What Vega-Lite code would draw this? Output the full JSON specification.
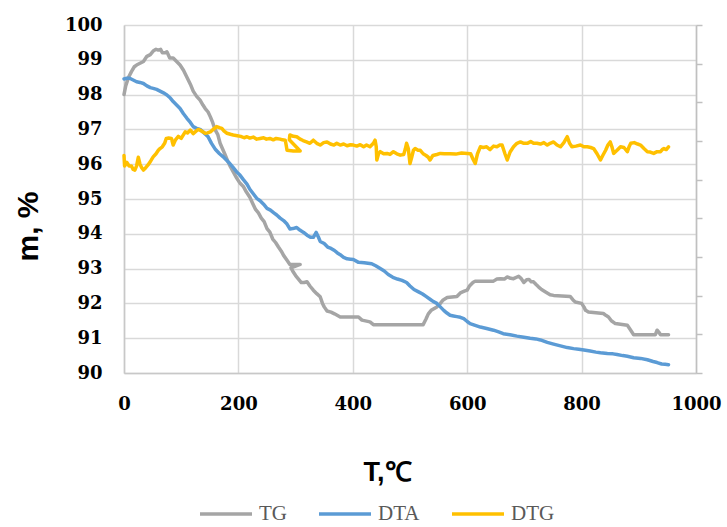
{
  "$schema": "https://vega.github.io/schema/vega-lite/v6.json",
  "autosize": "none",
  "width": 572,
  "height": 348,
  "padding": {"left": 124, "top": 25, "right": 31, "bottom": 154},
  "background": "white",
  "config": {
    "view": {"stroke": null},
    "axis": {"labelFont": "DejaVu Serif", "labelFontWeight": "bold", "labelFontSize": 18, "labelColor": "#000000", "gridColor": "#d9d9d9", "gridWidth": 1.5, "domainColor": "#c8c8c8", "domainWidth": 1.5, "ticks": false, "labelFlush": false}
  },
  "resolve": {"scale": {"y": "independent"}},
  "layer": [
    {
      "data": {"values": [
        {"s":"TG","T":0,"m":98.0},{"s":"TG","T":3,"m":98.25},{"s":"TG","T":8,"m":98.5},{"s":"TG","T":13,"m":98.66},{"s":"TG","T":18,"m":98.8},{"s":"TG","T":22,"m":98.85},{"s":"TG","T":28,"m":98.9},{"s":"TG","T":34,"m":98.95},{"s":"TG","T":40,"m":99.1},{"s":"TG","T":46,"m":99.15},{"s":"TG","T":51,"m":99.25},{"s":"TG","T":56,"m":99.3},{"s":"TG","T":60,"m":99.28},{"s":"TG","T":64,"m":99.3},{"s":"TG","T":67,"m":99.2},{"s":"TG","T":72,"m":99.2},{"s":"TG","T":75,"m":99.23},{"s":"TG","T":80,"m":99.05},{"s":"TG","T":86,"m":99.05},{"s":"TG","T":92,"m":98.95},{"s":"TG","T":98,"m":98.85},{"s":"TG","T":104,"m":98.7},{"s":"TG","T":110,"m":98.5},{"s":"TG","T":116,"m":98.3},{"s":"TG","T":121,"m":98.1},{"s":"TG","T":127,"m":97.95},{"s":"TG","T":133,"m":97.84},{"s":"TG","T":138,"m":97.7},{"s":"TG","T":142,"m":97.6},{"s":"TG","T":147,"m":97.5},{"s":"TG","T":151,"m":97.36},{"s":"TG","T":155,"m":97.2},{"s":"TG","T":159,"m":97.0},{"s":"TG","T":164,"m":96.85},{"s":"TG","T":168,"m":96.6},{"s":"TG","T":172,"m":96.45},{"s":"TG","T":176,"m":96.3},{"s":"TG","T":181,"m":96.1},{"s":"TG","T":186,"m":95.93},{"s":"TG","T":192,"m":95.75},{"s":"TG","T":197,"m":95.6},{"s":"TG","T":203,"m":95.45},{"s":"TG","T":209,"m":95.35},{"s":"TG","T":214,"m":95.2},{"s":"TG","T":220,"m":95.05},{"s":"TG","T":225,"m":94.87},{"s":"TG","T":230,"m":94.7},{"s":"TG","T":235,"m":94.6},{"s":"TG","T":240,"m":94.45},{"s":"TG","T":245,"m":94.35},{"s":"TG","T":250,"m":94.15},{"s":"TG","T":255,"m":94.05},{"s":"TG","T":260,"m":93.85},{"s":"TG","T":265,"m":93.75},{"s":"TG","T":270,"m":93.62},{"s":"TG","T":275,"m":93.5},{"s":"TG","T":279,"m":93.38},{"s":"TG","T":285,"m":93.24},{"s":"TG","T":290,"m":93.12},{"s":"TG","T":308,"m":93.12},{"s":"TG","T":292,"m":93.02},{"s":"TG","T":296,"m":92.9},{"s":"TG","T":300,"m":92.8},{"s":"TG","T":305,"m":92.7},{"s":"TG","T":310,"m":92.6},{"s":"TG","T":315,"m":92.6},{"s":"TG","T":320,"m":92.62},{"s":"TG","T":325,"m":92.5},{"s":"TG","T":331,"m":92.38},{"s":"TG","T":337,"m":92.28},{"s":"TG","T":343,"m":92.19},{"s":"TG","T":347,"m":92.0},{"s":"TG","T":350,"m":91.9},{"s":"TG","T":355,"m":91.78},{"s":"TG","T":362,"m":91.75},{"s":"TG","T":368,"m":91.7},{"s":"TG","T":378,"m":91.61},{"s":"TG","T":395,"m":91.61},{"s":"TG","T":410,"m":91.61},{"s":"TG","T":416,"m":91.52},{"s":"TG","T":430,"m":91.47},{"s":"TG","T":436,"m":91.39},{"s":"TG","T":523,"m":91.39},{"s":"TG","T":528,"m":91.55},{"s":"TG","T":532,"m":91.7},{"s":"TG","T":537,"m":91.8},{"s":"TG","T":547,"m":91.9},{"s":"TG","T":553,"m":92.0},{"s":"TG","T":558,"m":92.1},{"s":"TG","T":565,"m":92.17},{"s":"TG","T":582,"m":92.2},{"s":"TG","T":588,"m":92.3},{"s":"TG","T":595,"m":92.35},{"s":"TG","T":600,"m":92.38},{"s":"TG","T":604,"m":92.5},{"s":"TG","T":610,"m":92.6},{"s":"TG","T":614,"m":92.64},{"s":"TG","T":646,"m":92.64},{"s":"TG","T":652,"m":92.7},{"s":"TG","T":658,"m":92.71},{"s":"TG","T":665,"m":92.7},{"s":"TG","T":670,"m":92.76},{"s":"TG","T":676,"m":92.72},{"s":"TG","T":681,"m":92.71},{"s":"TG","T":690,"m":92.78},{"s":"TG","T":694,"m":92.72},{"s":"TG","T":699,"m":92.6},{"s":"TG","T":704,"m":92.68},{"s":"TG","T":708,"m":92.69},{"s":"TG","T":712,"m":92.62},{"s":"TG","T":716,"m":92.62},{"s":"TG","T":720,"m":92.55},{"s":"TG","T":725,"m":92.47},{"s":"TG","T":730,"m":92.4},{"s":"TG","T":737,"m":92.33},{"s":"TG","T":745,"m":92.25},{"s":"TG","T":751,"m":92.23},{"s":"TG","T":780,"m":92.2},{"s":"TG","T":785,"m":92.1},{"s":"TG","T":789,"m":92.04},{"s":"TG","T":800,"m":92.0},{"s":"TG","T":804,"m":91.9},{"s":"TG","T":807,"m":91.8},{"s":"TG","T":812,"m":91.75},{"s":"TG","T":838,"m":91.71},{"s":"TG","T":843,"m":91.65},{"s":"TG","T":847,"m":91.61},{"s":"TG","T":852,"m":91.5},{"s":"TG","T":859,"m":91.42},{"s":"TG","T":880,"m":91.37},{"s":"TG","T":885,"m":91.25},{"s":"TG","T":891,"m":91.1},{"s":"TG","T":929,"m":91.1},{"s":"TG","T":932,"m":91.23},{"s":"TG","T":936,"m":91.15},{"s":"TG","T":938,"m":91.1},{"s":"TG","T":952,"m":91.1},
        {"s":"DTA","T":0,"m":98.45},{"s":"DTA","T":5,"m":98.47},{"s":"DTA","T":10,"m":98.47},{"s":"DTA","T":16,"m":98.42},{"s":"DTA","T":22,"m":98.37},{"s":"DTA","T":28,"m":98.35},{"s":"DTA","T":34,"m":98.32},{"s":"DTA","T":40,"m":98.25},{"s":"DTA","T":46,"m":98.2},{"s":"DTA","T":51,"m":98.18},{"s":"DTA","T":57,"m":98.15},{"s":"DTA","T":63,"m":98.1},{"s":"DTA","T":69,"m":98.05},{"s":"DTA","T":75,"m":97.99},{"s":"DTA","T":81,"m":97.9},{"s":"DTA","T":86,"m":97.8},{"s":"DTA","T":92,"m":97.7},{"s":"DTA","T":98,"m":97.6},{"s":"DTA","T":104,"m":97.45},{"s":"DTA","T":110,"m":97.32},{"s":"DTA","T":116,"m":97.2},{"s":"DTA","T":121,"m":97.08},{"s":"DTA","T":127,"m":97.03},{"s":"DTA","T":133,"m":97.0},{"s":"DTA","T":140,"m":96.9},{"s":"DTA","T":147,"m":96.79},{"s":"DTA","T":153,"m":96.6},{"s":"DTA","T":160,"m":96.42},{"s":"DTA","T":167,"m":96.3},{"s":"DTA","T":173,"m":96.22},{"s":"DTA","T":179,"m":96.12},{"s":"DTA","T":185,"m":96.02},{"s":"DTA","T":191,"m":95.9},{"s":"DTA","T":197,"m":95.78},{"s":"DTA","T":203,"m":95.68},{"s":"DTA","T":209,"m":95.55},{"s":"DTA","T":215,"m":95.43},{"s":"DTA","T":220,"m":95.28},{"s":"DTA","T":226,"m":95.15},{"s":"DTA","T":232,"m":95.02},{"s":"DTA","T":238,"m":94.95},{"s":"DTA","T":244,"m":94.85},{"s":"DTA","T":250,"m":94.73},{"s":"DTA","T":256,"m":94.68},{"s":"DTA","T":262,"m":94.6},{"s":"DTA","T":267,"m":94.54},{"s":"DTA","T":273,"m":94.45},{"s":"DTA","T":279,"m":94.38},{"s":"DTA","T":285,"m":94.28},{"s":"DTA","T":290,"m":94.14},{"s":"DTA","T":295,"m":94.15},{"s":"DTA","T":302,"m":94.18},{"s":"DTA","T":308,"m":94.1},{"s":"DTA","T":314,"m":94.04},{"s":"DTA","T":320,"m":93.96},{"s":"DTA","T":326,"m":93.9},{"s":"DTA","T":331,"m":93.9},{"s":"DTA","T":336,"m":94.04},{"s":"DTA","T":340,"m":93.9},{"s":"DTA","T":343,"m":93.78},{"s":"DTA","T":350,"m":93.72},{"s":"DTA","T":356,"m":93.62},{"s":"DTA","T":362,"m":93.58},{"s":"DTA","T":368,"m":93.52},{"s":"DTA","T":373,"m":93.45},{"s":"DTA","T":378,"m":93.4},{"s":"DTA","T":384,"m":93.32},{"s":"DTA","T":390,"m":93.28},{"s":"DTA","T":396,"m":93.27},{"s":"DTA","T":401,"m":93.26},{"s":"DTA","T":410,"m":93.18},{"s":"DTA","T":420,"m":93.17},{"s":"DTA","T":433,"m":93.14},{"s":"DTA","T":440,"m":93.08},{"s":"DTA","T":448,"m":93.0},{"s":"DTA","T":455,"m":92.93},{"s":"DTA","T":462,"m":92.83},{"s":"DTA","T":470,"m":92.75},{"s":"DTA","T":478,"m":92.7},{"s":"DTA","T":486,"m":92.66},{"s":"DTA","T":494,"m":92.6},{"s":"DTA","T":500,"m":92.5},{"s":"DTA","T":507,"m":92.4},{"s":"DTA","T":515,"m":92.33},{"s":"DTA","T":522,"m":92.27},{"s":"DTA","T":528,"m":92.2},{"s":"DTA","T":535,"m":92.12},{"s":"DTA","T":541,"m":92.05},{"s":"DTA","T":547,"m":92.0},{"s":"DTA","T":553,"m":91.9},{"s":"DTA","T":559,"m":91.8},{"s":"DTA","T":564,"m":91.73},{"s":"DTA","T":570,"m":91.66},{"s":"DTA","T":576,"m":91.64},{"s":"DTA","T":582,"m":91.62},{"s":"DTA","T":588,"m":91.6},{"s":"DTA","T":594,"m":91.56},{"s":"DTA","T":600,"m":91.48},{"s":"DTA","T":605,"m":91.42},{"s":"DTA","T":614,"m":91.37},{"s":"DTA","T":623,"m":91.32},{"s":"DTA","T":634,"m":91.28},{"s":"DTA","T":646,"m":91.23},{"s":"DTA","T":655,"m":91.18},{"s":"DTA","T":663,"m":91.13},{"s":"DTA","T":675,"m":91.1},{"s":"DTA","T":687,"m":91.06},{"s":"DTA","T":699,"m":91.03},{"s":"DTA","T":710,"m":91.0},{"s":"DTA","T":720,"m":90.98},{"s":"DTA","T":728,"m":90.95},{"s":"DTA","T":740,"m":90.88},{"s":"DTA","T":751,"m":90.83},{"s":"DTA","T":763,"m":90.78},{"s":"DTA","T":775,"m":90.73},{"s":"DTA","T":786,"m":90.7},{"s":"DTA","T":795,"m":90.68},{"s":"DTA","T":804,"m":90.66},{"s":"DTA","T":815,"m":90.63},{"s":"DTA","T":825,"m":90.6},{"s":"DTA","T":833,"m":90.58},{"s":"DTA","T":845,"m":90.56},{"s":"DTA","T":855,"m":90.55},{"s":"DTA","T":862,"m":90.53},{"s":"DTA","T":872,"m":90.5},{"s":"DTA","T":880,"m":90.48},{"s":"DTA","T":891,"m":90.44},{"s":"DTA","T":903,"m":90.42},{"s":"DTA","T":915,"m":90.38},{"s":"DTA","T":925,"m":90.33},{"s":"DTA","T":932,"m":90.3},{"s":"DTA","T":940,"m":90.26},{"s":"DTA","T":946,"m":90.25},{"s":"DTA","T":952,"m":90.24},
        {"s":"DTG","T":0,"m":96.25},{"s":"DTG","T":1,"m":95.95},{"s":"DTG","T":5,"m":96.05},{"s":"DTG","T":9,"m":95.95},{"s":"DTG","T":13,"m":95.95},{"s":"DTG","T":16,"m":95.85},{"s":"DTG","T":19,"m":95.83},{"s":"DTG","T":22,"m":95.95},{"s":"DTG","T":25,"m":96.2},{"s":"DTG","T":28,"m":96.0},{"s":"DTG","T":31,"m":95.9},{"s":"DTG","T":34,"m":95.83},{"s":"DTG","T":38,"m":95.9},{"s":"DTG","T":42,"m":95.98},{"s":"DTG","T":47,"m":96.1},{"s":"DTG","T":51,"m":96.21},{"s":"DTG","T":56,"m":96.3},{"s":"DTG","T":60,"m":96.4},{"s":"DTG","T":63,"m":96.45},{"s":"DTG","T":67,"m":96.5},{"s":"DTG","T":71,"m":96.6},{"s":"DTG","T":74,"m":96.74},{"s":"DTG","T":78,"m":96.75},{"s":"DTG","T":83,"m":96.74},{"s":"DTG","T":86,"m":96.55},{"s":"DTG","T":90,"m":96.7},{"s":"DTG","T":95,"m":96.8},{"s":"DTG","T":100,"m":96.74},{"s":"DTG","T":104,"m":96.85},{"s":"DTG","T":107,"m":96.93},{"s":"DTG","T":111,"m":96.9},{"s":"DTG","T":116,"m":96.98},{"s":"DTG","T":121,"m":96.88},{"s":"DTG","T":126,"m":96.95},{"s":"DTG","T":130,"m":97.0},{"s":"DTG","T":136,"m":96.95},{"s":"DTG","T":142,"m":96.89},{"s":"DTG","T":146,"m":96.9},{"s":"DTG","T":151,"m":96.93},{"s":"DTG","T":156,"m":97.0},{"s":"DTG","T":162,"m":97.08},{"s":"DTG","T":167,"m":97.05},{"s":"DTG","T":171,"m":97.03},{"s":"DTG","T":175,"m":96.95},{"s":"DTG","T":180,"m":96.89},{"s":"DTG","T":186,"m":96.86},{"s":"DTG","T":191,"m":96.84},{"s":"DTG","T":198,"m":96.82},{"s":"DTG","T":204,"m":96.8},{"s":"DTG","T":210,"m":96.76},{"s":"DTG","T":215,"m":96.79},{"s":"DTG","T":220,"m":96.75},{"s":"DTG","T":226,"m":96.78},{"s":"DTG","T":232,"m":96.72},{"s":"DTG","T":238,"m":96.74},{"s":"DTG","T":244,"m":96.76},{"s":"DTG","T":249,"m":96.72},{"s":"DTG","T":255,"m":96.74},{"s":"DTG","T":261,"m":96.7},{"s":"DTG","T":266,"m":96.74},{"s":"DTG","T":273,"m":96.72},{"s":"DTG","T":277,"m":96.7},{"s":"DTG","T":282,"m":96.69},{"s":"DTG","T":284,"m":96.5},{"s":"DTG","T":285,"m":96.4},{"s":"DTG","T":296,"m":96.38},{"s":"DTG","T":308,"m":96.38},{"s":"DTG","T":289,"m":96.7},{"s":"DTG","T":290,"m":96.84},{"s":"DTG","T":296,"m":96.8},{"s":"DTG","T":302,"m":96.79},{"s":"DTG","T":308,"m":96.72},{"s":"DTG","T":313,"m":96.68},{"s":"DTG","T":319,"m":96.64},{"s":"DTG","T":325,"m":96.6},{"s":"DTG","T":331,"m":96.69},{"s":"DTG","T":337,"m":96.6},{"s":"DTG","T":343,"m":96.55},{"s":"DTG","T":349,"m":96.62},{"s":"DTG","T":355,"m":96.64},{"s":"DTG","T":361,"m":96.58},{"s":"DTG","T":367,"m":96.55},{"s":"DTG","T":372,"m":96.6},{"s":"DTG","T":378,"m":96.55},{"s":"DTG","T":384,"m":96.58},{"s":"DTG","T":390,"m":96.53},{"s":"DTG","T":396,"m":96.56},{"s":"DTG","T":401,"m":96.55},{"s":"DTG","T":407,"m":96.52},{"s":"DTG","T":413,"m":96.56},{"s":"DTG","T":419,"m":96.5},{"s":"DTG","T":424,"m":96.55},{"s":"DTG","T":430,"m":96.5},{"s":"DTG","T":436,"m":96.6},{"s":"DTG","T":439,"m":96.69},{"s":"DTG","T":441,"m":96.5},{"s":"DTG","T":442,"m":96.12},{"s":"DTG","T":445,"m":96.3},{"s":"DTG","T":448,"m":96.36},{"s":"DTG","T":454,"m":96.3},{"s":"DTG","T":460,"m":96.31},{"s":"DTG","T":465,"m":96.28},{"s":"DTG","T":471,"m":96.36},{"s":"DTG","T":477,"m":96.3},{"s":"DTG","T":483,"m":96.26},{"s":"DTG","T":489,"m":96.28},{"s":"DTG","T":492,"m":96.45},{"s":"DTG","T":494,"m":96.6},{"s":"DTG","T":497,"m":96.45},{"s":"DTG","T":500,"m":96.02},{"s":"DTG","T":503,"m":96.2},{"s":"DTG","T":506,"m":96.4},{"s":"DTG","T":509,"m":96.45},{"s":"DTG","T":514,"m":96.4},{"s":"DTG","T":518,"m":96.4},{"s":"DTG","T":523,"m":96.3},{"s":"DTG","T":528,"m":96.25},{"s":"DTG","T":532,"m":96.2},{"s":"DTG","T":535,"m":96.12},{"s":"DTG","T":540,"m":96.25},{"s":"DTG","T":547,"m":96.28},{"s":"DTG","T":553,"m":96.31},{"s":"DTG","T":560,"m":96.3},{"s":"DTG","T":570,"m":96.3},{"s":"DTG","T":580,"m":96.29},{"s":"DTG","T":590,"m":96.32},{"s":"DTG","T":600,"m":96.31},{"s":"DTG","T":606,"m":96.3},{"s":"DTG","T":610,"m":96.15},{"s":"DTG","T":614,"m":96.02},{"s":"DTG","T":618,"m":96.3},{"s":"DTG","T":623,"m":96.5},{"s":"DTG","T":628,"m":96.48},{"s":"DTG","T":634,"m":96.5},{"s":"DTG","T":640,"m":96.42},{"s":"DTG","T":646,"m":96.52},{"s":"DTG","T":652,"m":96.5},{"s":"DTG","T":657,"m":96.55},{"s":"DTG","T":661,"m":96.55},{"s":"DTG","T":666,"m":96.3},{"s":"DTG","T":670,"m":96.12},{"s":"DTG","T":675,"m":96.35},{"s":"DTG","T":681,"m":96.5},{"s":"DTG","T":687,"m":96.6},{"s":"DTG","T":693,"m":96.64},{"s":"DTG","T":699,"m":96.6},{"s":"DTG","T":705,"m":96.6},{"s":"DTG","T":711,"m":96.65},{"s":"DTG","T":716,"m":96.6},{"s":"DTG","T":722,"m":96.6},{"s":"DTG","T":728,"m":96.58},{"s":"DTG","T":734,"m":96.62},{"s":"DTG","T":740,"m":96.55},{"s":"DTG","T":745,"m":96.6},{"s":"DTG","T":751,"m":96.64},{"s":"DTG","T":757,"m":96.55},{"s":"DTG","T":763,"m":96.5},{"s":"DTG","T":769,"m":96.62},{"s":"DTG","T":775,"m":96.79},{"s":"DTG","T":779,"m":96.6},{"s":"DTG","T":783,"m":96.5},{"s":"DTG","T":790,"m":96.52},{"s":"DTG","T":798,"m":96.55},{"s":"DTG","T":804,"m":96.5},{"s":"DTG","T":810,"m":96.5},{"s":"DTG","T":816,"m":96.48},{"s":"DTG","T":821,"m":96.45},{"s":"DTG","T":827,"m":96.3},{"s":"DTG","T":833,"m":96.12},{"s":"DTG","T":837,"m":96.25},{"s":"DTG","T":842,"m":96.4},{"s":"DTG","T":846,"m":96.55},{"s":"DTG","T":850,"m":96.64},{"s":"DTG","T":853,"m":96.5},{"s":"DTG","T":856,"m":96.31},{"s":"DTG","T":862,"m":96.4},{"s":"DTG","T":868,"m":96.5},{"s":"DTG","T":874,"m":96.48},{"s":"DTG","T":880,"m":96.36},{"s":"DTG","T":883,"m":96.5},{"s":"DTG","T":886,"m":96.6},{"s":"DTG","T":892,"m":96.62},{"s":"DTG","T":898,"m":96.58},{"s":"DTG","T":903,"m":96.55},{"s":"DTG","T":909,"m":96.45},{"s":"DTG","T":915,"m":96.36},{"s":"DTG","T":920,"m":96.35},{"s":"DTG","T":926,"m":96.31},{"s":"DTG","T":932,"m":96.36},{"s":"DTG","T":938,"m":96.36},{"s":"DTG","T":941,"m":96.42},{"s":"DTG","T":944,"m":96.45},{"s":"DTG","T":948,"m":96.42},{"s":"DTG","T":952,"m":96.5}
      ]},
      "mark": {"type": "line", "strokeWidth": 3.5, "strokeJoin": "round", "strokeCap": "round"},
      "encoding": {
        "x": {"field": "T", "type": "quantitative", "scale": {"domain": [0, 1000], "nice": false},
              "axis": {"values": [0, 200, 400, 600, 800, 1000], "format": "d", "grid": true, "labelPadding": 22, "title": "T,℃", "titleFont": "Liberation Sans", "titleFontWeight": "bold", "titleFontSize": 27, "titleColor": "#000000", "titleX": 263, "titleY": 107, "titleAlign": "center", "titleBaseline": "alphabetic"}},
        "y": {"field": "m", "type": "quantitative", "scale": {"domain": [90, 100], "nice": false, "zero": false},
              "axis": {"values": [90, 91, 92, 93, 94, 95, 96, 97, 98, 99, 100], "grid": true, "labelPadding": 22, "title": "m, %", "titleFont": "Liberation Sans", "titleFontWeight": "bold", "titleFontSize": 30, "titleColor": "#000000", "titleAngle": -90, "titleX": -87, "titleY": 201, "titleAlign": "center", "titleBaseline": "alphabetic"}},
        "color": {"field": "s", "type": "nominal", "sort": ["TG", "DTA", "DTG"],
                  "scale": {"domain": ["TG", "DTA", "DTG"], "range": ["#A5A5A5", "#5B9BD5", "#FFC000"]},
                  "legend": {"title": null, "orient": "none", "direction": "horizontal", "legendX": 74, "legendY": 461, "symbolType": "stroke", "symbolSize": 2704, "symbolStrokeWidth": 3.5, "labelFont": "Liberation Serif", "labelFontSize": 21, "labelColor": "#595959", "labelOffset": 5, "columnPadding": 25}},
        "order": {"value": null}
      }
    },
    {
      "data": {"values": [{}]},
      "mark": {"type": "rule", "opacity": 0},
      "encoding": {
        "y": {"datum": 90, "type": "quantitative", "scale": {"domain": [90, 100], "nice": false, "zero": false},
              "axis": {"orient": "right", "values": [90, 91.1111, 92.2222, 93.3333, 94.4444, 95.5556, 96.6667, 97.7778, 98.8889, 100], "labels": false, "ticks": true, "tickSize": 6, "tickWidth": 1.5, "tickColor": "#c0c0c0", "domainColor": "#c0c0c0", "grid": false, "title": null}}
      }
    }
  ]
}
